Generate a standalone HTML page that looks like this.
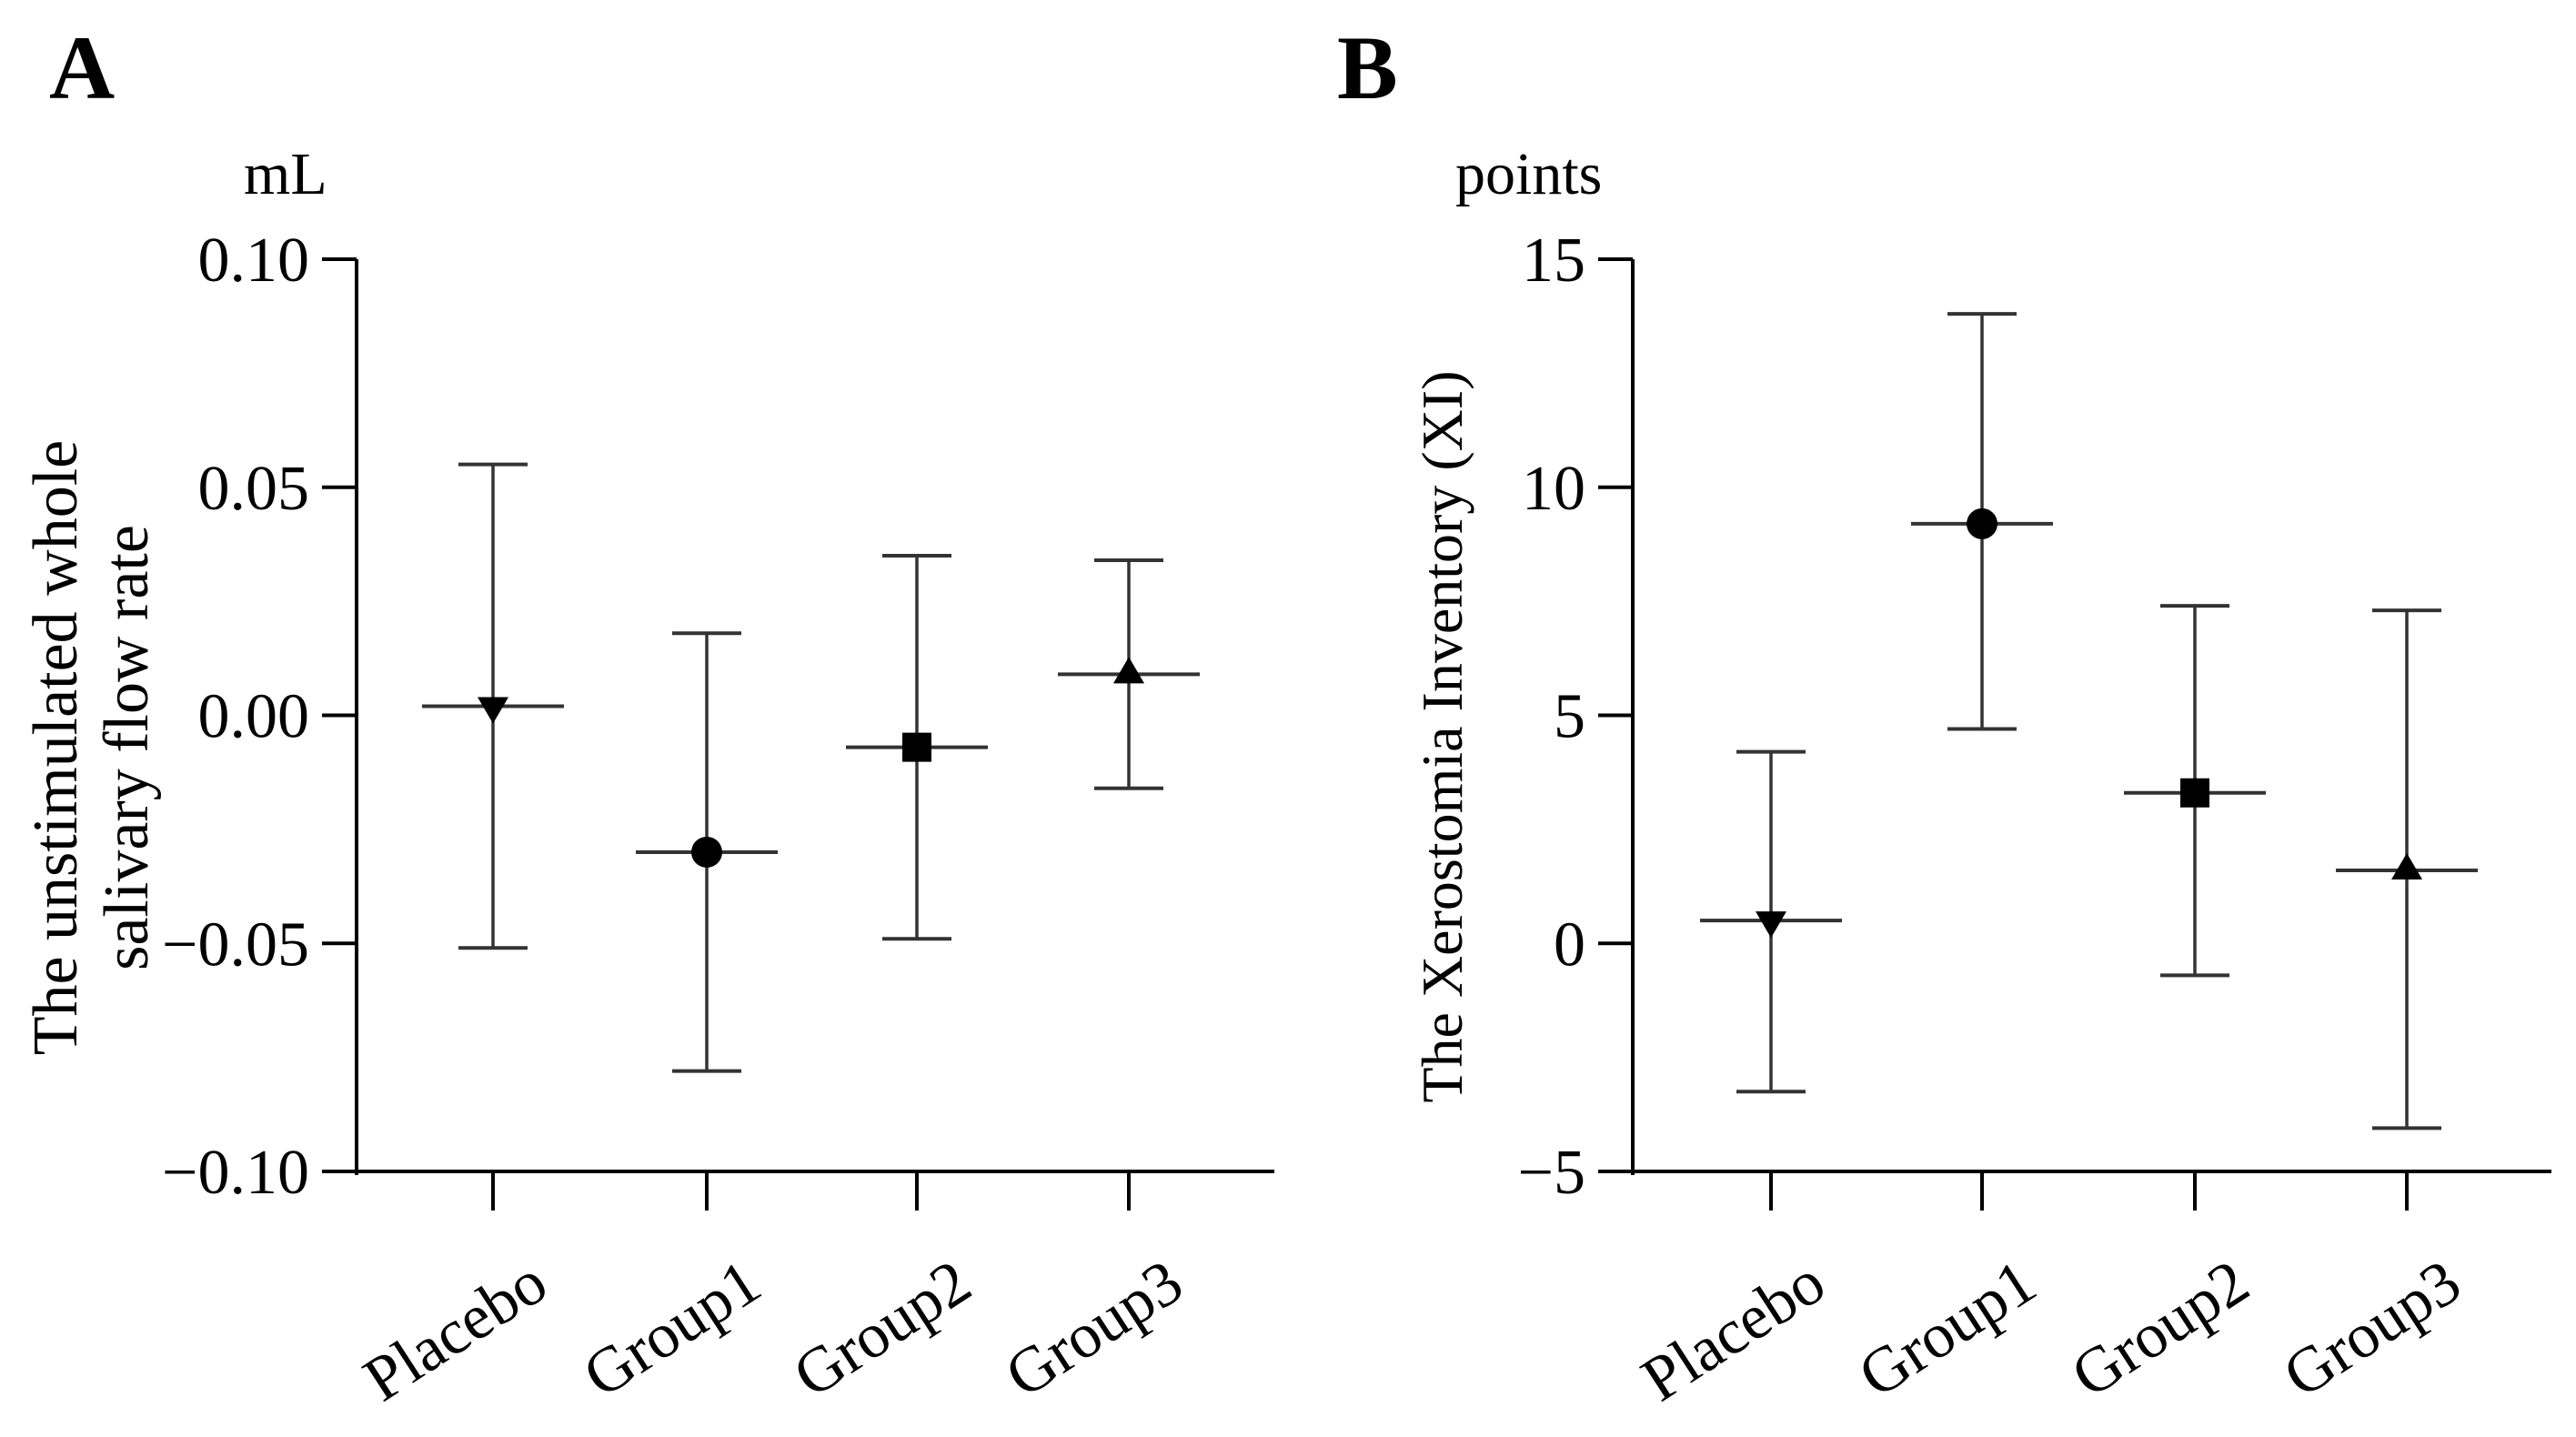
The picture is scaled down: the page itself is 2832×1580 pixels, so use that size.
<!DOCTYPE html>
<html><head><meta charset="utf-8"><style>
html,body{margin:0;padding:0;background:#fff;}
svg text{font-family:"Liberation Serif",serif;fill:#000;}
</style></head><body>
<svg id="chart" width="2832" height="1575" viewBox="0 0 2832 1575" xmlns="http://www.w3.org/2000/svg">
<text x="54" y="108" font-size="100" font-weight="bold">A</text>
<text x="1470" y="108" font-size="100" font-weight="bold">B</text>
<text x="268" y="213" font-size="66">mL</text>
<text x="1600" y="213" font-size="66">points</text>
<text transform="translate(84,822) rotate(-90)" text-anchor="middle" font-size="70">The unstimulated whole</text>
<text transform="translate(162,822) rotate(-90)" text-anchor="middle" font-size="70">salivary flow rate</text>
<text transform="translate(1607,810) rotate(-90)" text-anchor="middle" font-size="64">The Xerostomia Inventory (XI)</text>
<g id="pa"></g>
<g id="pb"></g>
</svg>
<script>
const categories = ["Placebo","Group1","Group2","Group3"];
const markers = ["tri-down","circle","square","tri-up"];
const aMean = [0.002,-0.030,-0.007,0.009];
const aUpper = [0.055,0.018,0.035,0.034];
const aLower = [-0.051,-0.078,-0.049,-0.016];
const aTicks = [0.10,0.05,0.00,-0.05,-0.10];
const aTickLabels = ["0.10","0.05","0.00","\u22120.05","\u22120.10"];
const bMean = [0.5,9.2,3.3,1.6];
const bUpper = [4.2,13.8,7.4,7.3];
const bLower = [-3.25,4.7,-0.7,-4.05];
const bTicks = [15,10,5,0,-5];
const bTickLabels = ["15","10","5","0","\u22125"];

const NS="http://www.w3.org/2000/svg";
function mk(tag,attrs,parent){const e=document.createElementNS(NS,tag);for(const k in attrs)e.setAttribute(k,attrs[k]);parent.appendChild(e);return e;}

function panel(g,cfg){
  const y=v=>cfg.top+(cfg.max-v)/(cfg.max-cfg.min)*(cfg.bottom-cfg.top);
  const x=i=>cfg.xs[i];
  const ya=mk('line',{x1:cfg.axX,y1:cfg.top,x2:cfg.axX,y2:cfg.bottom+4,stroke:'#000','stroke-width':4},g);
  
  
  const xa=mk('line',{x1:cfg.axX-2,y1:cfg.bottom,x2:cfg.axEnd,y2:cfg.bottom,stroke:'#000','stroke-width':4},g);
  
  
  cfg.ticks.forEach((t,i)=>{
    const tl=mk('line',{x1:cfg.axX-38,y1:y(t),x2:cfg.axX,y2:y(t),stroke:'#000','stroke-width':4},g);
    
    
    const tx=mk('text',{x:cfg.axX-52,y:y(t)+24,'text-anchor':'end','font-size':70},g);
    tx.textContent=cfg.labels[i];
    
    
  });
  categories.forEach((c,i)=>{
    const cx=x(i);
    const tk=mk('line',{x1:cx,y1:cfg.bottom,x2:cx,y2:cfg.bottom+43,stroke:'#000','stroke-width':4},g);
    
    
    const lb=mk('text',{transform:`translate(${cx+64},1422) rotate(-33)`,'text-anchor':'end','font-size':70},g);
    lb.textContent=c;
    
    
    const col='#333';
    const v=mk('line',{x1:cx,y1:y(cfg.upper[i]),x2:cx,y2:y(cfg.lower[i]),stroke:col,'stroke-width':3.5},g);
    
    
    [cfg.upper[i],cfg.lower[i]].forEach(val=>{
      const cap=mk('line',{x1:cx-38,y1:y(val),x2:cx+38,y2:y(val),stroke:col,'stroke-width':4},g);
      
      
    });
    const m=mk('line',{x1:cx-78,y1:y(cfg.mean[i]),x2:cx+78,y2:y(cfg.mean[i]),stroke:col,'stroke-width':4},g);
    
    
    const my=y(cfg.mean[i]);let mark;const s=17;
    if(markers[i]==='circle') mark=mk('circle',{cx:cx,cy:my,r:17,fill:'#000'},g);
    else if(markers[i]==='square') mark=mk('rect',{x:cx-16,y:my-16,width:32,height:32,fill:'#000'},g);
    else if(markers[i]==='tri-down') mark=mk('polygon',{points:`${cx-s},${my-10} ${cx+s},${my-10} ${cx},${my+19}`,fill:'#000'},g);
    else mark=mk('polygon',{points:`${cx-s},${my+10} ${cx+s},${my+10} ${cx},${my-19}`,fill:'#000'},g);
    
    
  });
}
panel(document.getElementById('pa'),{axX:392,axEnd:1401,top:285,bottom:1288,max:0.10,min:-0.10,xs:[542,777,1008,1241],ticks:aTicks,labels:aTickLabels,mean:aMean,upper:aUpper,lower:aLower});
panel(document.getElementById('pb'),{axX:1795,axEnd:2805,top:285,bottom:1288,max:15,min:-5,xs:[1947,2179,2413,2646],ticks:bTicks,labels:bTickLabels,mean:bMean,upper:bUpper,lower:bLower});
</script>
</body></html>
